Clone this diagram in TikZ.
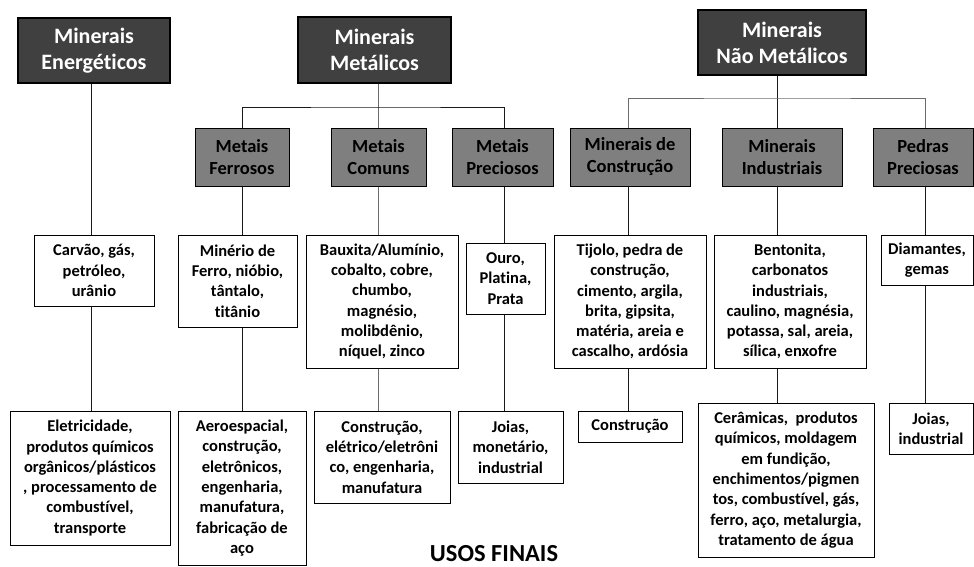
\documentclass[tikz,border=0pt]{standalone}
\usepackage{fontspec}
\setmainfont{Carlito}[RawFeature={-liga}]
\definecolor{topfill}{HTML}{404040}
\definecolor{midfill}{HTML}{7F7F7F}
\definecolor{lnc}{HTML}{1A1A1A}
\begin{document}
\begin{tikzpicture}[x=1pt,y=-1pt,
  topbox/.style={draw=black, line width=1.2pt, fill=topfill, text=white, align=center, inner sep=0pt,
    font=\fontsize{22}{26}\selectfont\bfseries},
  midbox/.style={draw=black, line width=1pt, fill=midfill, text=black, align=center, inner sep=0pt,
    font=\fontsize{18.5}{22}\selectfont\bfseries},
  leafbox/.style={draw=black, line width=1pt, fill=white, text=black, align=center, inner sep=0pt,
    font=\fontsize{16.5}{20.3}\selectfont\bfseries},
  conn/.style={draw=lnc, line width=1pt},
  connG/.style={draw=gray!85!black, line width=1pt}]
\useasboundingbox[fill=white] (0,0) rectangle (974,566);

% column x positions
\coordinate (c1) at (91,0);
\coordinate (c2) at (242,0);
\coordinate (c3) at (378,0);
\coordinate (c4) at (504,0);
\coordinate (c5) at (628,0);
\coordinate (c6) at (777,0);
\coordinate (c7) at (925,0);
\coordinate (bus1) at (378,107);
\coordinate (bus2) at (777,98);

% top level
\node[topbox, minimum width=152pt, minimum height=65pt] (E1) at (94,50.5) {Minerais\\Energéticos};
\node[topbox, minimum width=153pt, minimum height=66pt] (E2) at (374.5,50) {Minerais\\Metálicos};
\node[topbox, minimum width=168pt, minimum height=65pt] (E3) at (782,42.5) {Minerais\\Não Metálicos};

% second level
\node[midbox, minimum width=94pt, minimum height=58pt] (F) at (242,157) {Metais\\Ferrosos};
\node[midbox, minimum width=95pt, minimum height=58pt] (C) at (378.5,157) {Metais\\Comuns};
\node[midbox, minimum width=101pt, minimum height=58pt] (P) at (502.5,157) {Metais\\Preciosos};
\node[midbox, minimum width=120pt, minimum height=58pt] (MC) at (630,157) {Minerais de\\Construção};
\node[midbox, minimum width=120pt, minimum height=58pt] (MI) at (782,157) {Minerais\\Industriais};
\node[midbox, minimum width=100pt, minimum height=58pt] (PP) at (923,157) {Pedras\\Preciosas};

% third level
\node[leafbox, minimum width=120pt, minimum height=71pt] (carv) at (94,270.5) {Carvão, gás,\\petróleo,\\urânio};
\node[leafbox, minimum width=119pt, minimum height=92pt] (mfer) at (237.5,281) {Minério de\\Ferro, nióbio,\\tântalo,\\titânio};
\node[leafbox, minimum width=152pt, minimum height=133pt] (baux) at (382,301.5) {Bauxita/Alumínio,\\cobalto, cobre,\\chumbo,\\magnésio,\\molibdênio,\\níquel, zinco};
\node[leafbox, minimum width=79pt, minimum height=71pt] (ouro) at (505.5,278.5) {Ouro,\\Platina,\\Prata};
\node[leafbox, minimum width=152pt, minimum height=133pt] (tij) at (630,301.5) {Tijolo, pedra de\\construção,\\cimento, argila,\\brita, gipsita,\\matéria, areia e\\cascalho, ardósia};
\node[leafbox, minimum width=152pt, minimum height=133pt] (bent) at (790,301.5) {Bentonita,\\carbonatos\\industriais,\\caulino, magnésia,\\potassa, sal, areia,\\sílica, enxofre};
\node[leafbox, minimum width=92pt, minimum height=50pt] (diam) at (927,260) {Diamantes,\\gemas};

% fourth level
\node[leafbox, minimum width=160pt, minimum height=134pt] (elet) at (90,478) {Eletricidade,\\produtos químicos\\orgânicos/plásticos\\, processamento de\\combustível,\\transporte};
\node[leafbox, minimum width=128pt, minimum height=154pt] (aero) at (242,488) {Aeroespacial,\\construção,\\eletrônicos,\\engenharia,\\manufatura,\\fabricação de\\aço};
\node[leafbox, minimum width=136pt, minimum height=92pt] (cons1) at (382,457) {Construção,\\elétrico/eletrôni\\co, engenharia,\\manufatura};
\node[leafbox, minimum width=105pt, minimum height=72pt] (joias1) at (510.5,447) {Joias,\\monetário,\\industrial};
\node[leafbox, minimum width=104pt, minimum height=31pt] (cons2) at (630,426.5) {Construção};
\node[leafbox, minimum width=176pt, minimum height=154pt] (ceram) at (786,480) {Cerâmicas,~ produtos\\químicos, moldagem\\em fundição,\\enchimentos/pigmen\\tos, combustível, gás,\\ferro, aço, metalurgia,\\tratamento de água};
\node[leafbox, minimum width=84pt, minimum height=51pt] (joias2) at (931,428.5) {Joias,\\industrial};

\node[font=\fontsize{24.5}{28}\selectfont\bfseries, inner sep=0pt, anchor=base] (usos) at (494,561) {USOS FINAIS};

% connectors: energy column
\draw[conn] (E1.south -| c1) -- (carv.north -| c1);
\draw[conn] (carv.south -| c1) -- (elet.north -| c1);

% metallic
\draw[connG] (E2.south -| c3) -- (C.north -| c3);
\draw[conn] (F.north -| c2) |- (bus1) -| (P.north -| c4);
\draw[conn] (F.south -| c2) -- (mfer.north -| c2);
\draw[conn] (mfer.south -| c2) -- (aero.north -| c2);
\draw[connG] (C.south -| c3) -- (baux.north -| c3);
\draw[connG] (baux.south -| c3) -- (cons1.north -| c3);
\draw[conn] (P.south -| c4) -- (ouro.north -| c4);
\draw[conn] (ouro.south -| c4) -- (joias1.north -| c4);

% non-metallic
\draw[conn] (E3.south -| c6) -- (MI.north -| c6);
\draw[connG] (MC.north -| c5) |- (bus2) -| (PP.north -| c7);
\draw[conn] (MC.south -| c5) -- (tij.north -| c5);
\draw[conn] (tij.south -| c5) -- (cons2.north -| c5);
\draw[conn] (MI.south -| c6) -- (bent.north -| c6);
\draw[conn] (bent.south -| c6) -- (ceram.north -| c6);
\draw[conn] (PP.south -| c7) -- (diam.north -| c7);
\draw[conn] (diam.south -| c7) -- (joias2.north -| c7);
\end{tikzpicture}
\end{document}
